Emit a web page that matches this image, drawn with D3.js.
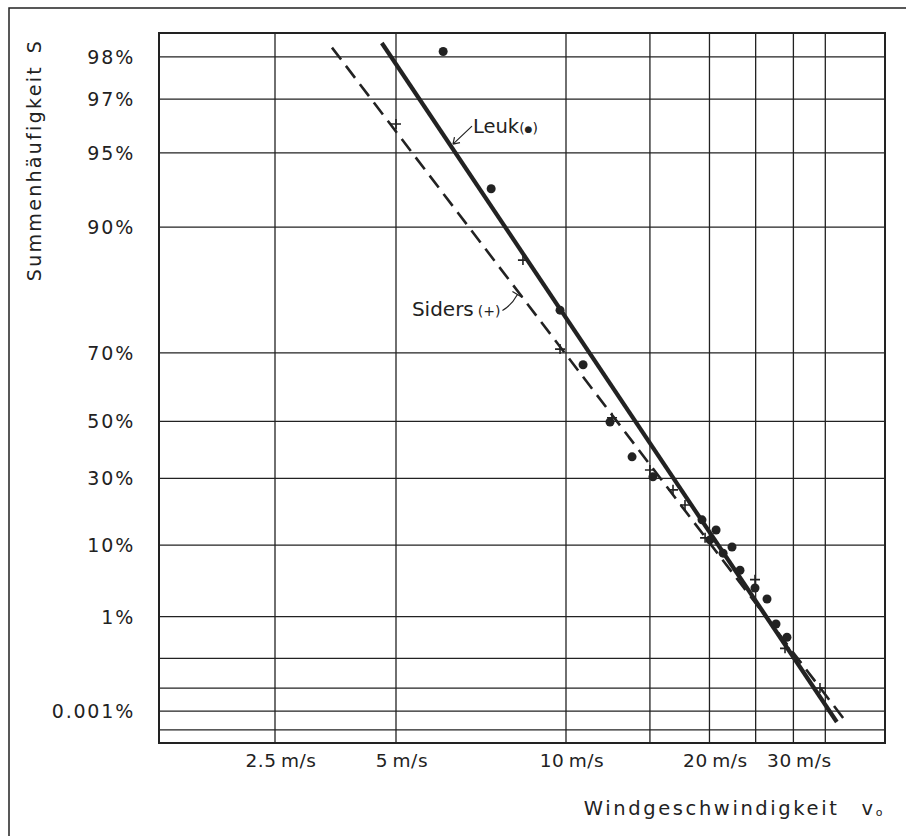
<!DOCTYPE html>
<html>
<head>
<meta charset="utf-8">
<script src="https://cdn.jsdelivr.net/npm/d3@7"></script>
<style>
  body { margin: 0; background: #fff; }
  svg text { font-family: "DejaVu Sans", sans-serif; fill: #222; }
</style>
</head>
<body>
<div id="chart"></div>
<script>
// Windgeschwindigkeit [m/s] / Summenhaeufigkeit [%]
var leukSpeed = [6.06, 7.37, 9.76, 10.86, 12.37, 13.76, 15.22, 19.29, 20.05, 20.65, 21.36, 22.30, 23.18, 24.92, 26.41, 27.58, 29.08];
var leukFreq  = [98.1, 93.0, 79.0, 67.0, 49.8, 37.6, 30.5, 16.5, 11.2, 13.7, 8.3, 9.6, 5.3, 3.05, 2.06, 0.71, 0.36];
var sidersSpeed = [5.0, 8.39, 9.76, 12.49, 15.0, 16.77, 17.77, 19.58, 24.92, 28.81, 34.11];
var sidersFreq  = [96.2, 86.5, 70.9, 51.2, 32.9, 26.0, 21.0, 11.7, 4.0, 0.19, 0.01];

// fitted straight lines (end points)
var leukLineSpeed = [4.61, 37.0];
var leukLineFreq  = [98.25, 0.000275];
var sidersLineSpeed = [3.465, 38.86];
var sidersLineFreq  = [98.17, 0.000243];

var speedTicks = [2.5, 5, 10, 20, 30];
var speedGrid  = [2.5, 5, 10, 15, 20, 25, 30, 35];
var freqTicks  = [98, 97, 95, 90, 70, 50, 30, 10, 1, 0.001];
var freqGrid   = [98, 97, 95, 90, 70, 50, 30, 10, 1, 0.1, 0.01, 0.001, 0.0001];

var W = 906, H = 836;
var margin = {top: 33, right: 21, bottom: 93, left: 159};
var ink = "#222";

// Gumbel probability paper: reduced variate
function gumbel(p) { return -Math.log(-Math.log(p / 100)); }

// paper is not quite logarithmic below 10 m/s, so a piecewise log scale
var x = d3.scaleLog()
    .domain([1.29, 2.5, 5, 10, 46.7])
    .range([159, 275, 396, 566, 885]);
var y = d3.scaleLinear()
    .domain([gumbel(1.53e-5), gumbel(98.41)])
    .range([H - margin.bottom, margin.top]);
function py(p) { return y(gumbel(p)); }

var svg = d3.select("#chart").append("svg")
    .attr("width", W).attr("height", H);

// outer frame
svg.append("path")
    .attr("d", "M9," + H + "V8H" + W)
    .attr("fill", "none").attr("stroke", ink).attr("stroke-width", 1.5);

var plot = svg.append("g");

// grid
plot.selectAll("line.vgrid").data(speedGrid).enter().append("line")
    .attr("class", "vgrid")
    .attr("x1", function (d) { return x(d); }).attr("x2", function (d) { return x(d); })
    .attr("y1", margin.top).attr("y2", H - margin.bottom)
    .attr("stroke", ink).attr("stroke-width", 1.3);
plot.selectAll("line.hgrid").data(freqGrid).enter().append("line")
    .attr("class", "hgrid")
    .attr("y1", function (d) { return py(d); }).attr("y2", function (d) { return py(d); })
    .attr("x1", margin.left).attr("x2", W - margin.right)
    .attr("stroke", ink).attr("stroke-width", 1.3);
plot.append("rect")
    .attr("x", margin.left).attr("y", margin.top)
    .attr("width", W - margin.right - margin.left)
    .attr("height", H - margin.bottom - margin.top)
    .attr("fill", "none").attr("stroke", ink).attr("stroke-width", 2);

// tick labels
svg.selectAll("text.ylab").data(freqTicks).enter().append("text")
    .attr("class", "ylab")
    .attr("x", 135).attr("y", function (d) { return py(d) + 7; })
    .attr("text-anchor", "end")
    .style("font-size", "19px").style("letter-spacing", "1.8px")
    .text(function (d) { return d + "%"; });

svg.selectAll("text.xlab").data(speedTicks).enter().append("text")
    .attr("class", "xlab")
    .attr("x", function (d) { return x(d) + 6; }).attr("y", 767)
    .attr("text-anchor", "middle")
    .style("font-size", "18.5px").style("letter-spacing", "0.6px")
    .text(function (d) { return d + "\u2009m/s"; });

// axis titles
svg.append("text")
    .attr("transform", "translate(41," + 160 + ")rotate(-90)")
    .attr("text-anchor", "middle")
    .style("font-size", "19px").style("letter-spacing", "2.3px")
    .text("Summenhäufigkeit\u2002S");

var xt = svg.append("text")
    .attr("x", 885).attr("y", 815)
    .attr("text-anchor", "end")
    .style("font-size", "19.5px").style("letter-spacing", "2.6px");
xt.append("tspan").text("Windgeschwindigkeit\u2003v");
xt.append("tspan").style("font-size", "11px").attr("dy", 1).text("o");

// fitted lines
var line = d3.line()
    .x(function (d) { return x(d[0]); })
    .y(function (d) { return py(d[1]); });

plot.append("path")
    .datum(d3.zip(sidersLineSpeed, sidersLineFreq))
    .attr("d", line)
    .attr("fill", "none").attr("stroke", ink).attr("stroke-width", 2.6)
    .attr("stroke-dasharray", "15,8");
plot.append("path")
    .datum(d3.zip(leukLineSpeed, leukLineFreq))
    .attr("d", line)
    .attr("fill", "none").attr("stroke", ink).attr("stroke-width", 4.2);

// Leuk points
plot.selectAll("circle.leuk").data(d3.zip(leukSpeed, leukFreq)).enter().append("circle")
    .attr("class", "leuk")
    .attr("cx", function (d) { return x(d[0]); })
    .attr("cy", function (d) { return py(d[1]); })
    .attr("r", 4.5)
    .attr("fill", ink);

// Siders points
plot.selectAll("path.siders").data(d3.zip(sidersSpeed, sidersFreq)).enter().append("path")
    .attr("class", "siders")
    .attr("d", function (d) {
        var cx = x(d[0]), cy = py(d[1]);
        return "M" + (cx - 5) + "," + cy + "H" + (cx + 5) + "M" + cx + "," + (cy - 5) + "V" + (cy + 5);
    })
    .attr("stroke", ink).attr("stroke-width", 1.6);

// point at fraction t along a fitted line
function along(speeds, freqs, t) {
    var x0 = x(speeds[0]), y0 = py(freqs[0]), x1 = x(speeds[1]), y1 = py(freqs[1]);
    return [x0 + (x1 - x0) * t, y0 + (y1 - y0) * t];
}

// Leuk label
var a = along(leukLineSpeed, leukLineFreq, 0.152);
svg.append("path")
    .attr("d", "M" + (a[0] + 2) + "," + (a[1] - 2) + "L" + (a[0] + 21) + "," + (a[1] - 20) +
        "M" + (a[0] + 2) + "," + (a[1] - 2) + "l7,-1.5M" + (a[0] + 2) + "," + (a[1] - 2) + "l1.5,-7")
    .attr("fill", "none").attr("stroke", ink).attr("stroke-width", 1.2);
var lt = svg.append("text")
    .attr("x", a[0] + 22).attr("y", a[1] - 13)
    .style("font-size", "19.5px");
lt.append("tspan").text("Leuk");
lt.append("tspan").style("font-size", "14px").text("(");
lt.append("tspan").style("font-size", "9px").attr("dy", -1.5).text("\u25CF");
lt.append("tspan").style("font-size", "14px").attr("dy", 1.5).text(")");

// Siders label
var b = along(sidersLineSpeed, sidersLineFreq, 0.364);
svg.append("path")
    .attr("d", "M" + (b[0] - 2) + "," + (b[1] + 1) + "Q" + (b[0] - 8) + "," + (b[1] + 12) + " " + (b[0] - 17) + "," + (b[1] + 17) +
        "M" + (b[0] - 7) + "," + (b[1] - 2) + "L" + (b[0] + 3) + "," + (b[1] + 4))
    .attr("fill", "none").attr("stroke", ink).attr("stroke-width", 1.2);
var st = svg.append("text")
    .attr("x", b[0] - 19).attr("y", b[1] + 23)
    .attr("text-anchor", "end")
    .style("font-size", "20px");
st.append("tspan").text("Siders\u2009");
st.append("tspan").style("font-size", "14px").text("(+)");
</script>
</body>
</html>
